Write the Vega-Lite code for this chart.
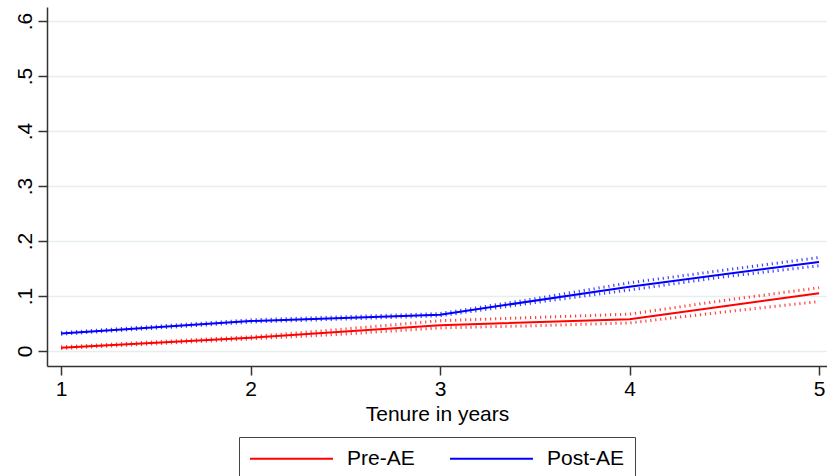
{
  "$schema": "https://vega.github.io/schema/vega-lite/v6.json",
  "width": 780,
  "height": 359,
  "autosize": "none",
  "padding": {"left": 47, "top": 7, "right": 0, "bottom": 110},
  "background": "white",
  "config": {
    "font": "Liberation Sans",
    "view": {"stroke": null},
    "axis": {
      "domainColor": "#333333",
      "domainWidth": 1.5,
      "tickColor": "#333333",
      "tickWidth": 1.5,
      "tickSize": 9,
      "labelFontSize": 21,
      "labelColor": "#000000",
      "titleFontSize": 21,
      "titleFontWeight": "normal",
      "titleColor": "#000000"
    }
  },
  "data": {
    "values": [
      {"tenure": 1, "group": "Pre-AE", "type": "est", "value": 0.006},
      {"tenure": 2, "group": "Pre-AE", "type": "est", "value": 0.024},
      {"tenure": 3, "group": "Pre-AE", "type": "est", "value": 0.047},
      {"tenure": 4, "group": "Pre-AE", "type": "est", "value": 0.0575},
      {"tenure": 5, "group": "Pre-AE", "type": "est", "value": 0.105},
      {"tenure": 1, "group": "Post-AE", "type": "est", "value": 0.032},
      {"tenure": 2, "group": "Post-AE", "type": "est", "value": 0.0545},
      {"tenure": 3, "group": "Post-AE", "type": "est", "value": 0.066},
      {"tenure": 4, "group": "Post-AE", "type": "est", "value": 0.117},
      {"tenure": 5, "group": "Post-AE", "type": "est", "value": 0.162},

      {"tenure": 1, "group": "Pre-AE", "type": "upper", "value": 0.0075},
      {"tenure": 2, "group": "Pre-AE", "type": "upper", "value": 0.026},
      {"tenure": 2.5, "group": "Pre-AE", "type": "upper", "value": 0.04},
      {"tenure": 3, "group": "Pre-AE", "type": "upper", "value": 0.055},
      {"tenure": 3.5, "group": "Pre-AE", "type": "upper", "value": 0.061},
      {"tenure": 4, "group": "Pre-AE", "type": "upper", "value": 0.067},
      {"tenure": 4.5, "group": "Pre-AE", "type": "upper", "value": 0.092},
      {"tenure": 5, "group": "Pre-AE", "type": "upper", "value": 0.115},
      {"tenure": 1, "group": "Pre-AE", "type": "lower", "value": 0.0045},
      {"tenure": 2, "group": "Pre-AE", "type": "lower", "value": 0.022},
      {"tenure": 2.5, "group": "Pre-AE", "type": "lower", "value": 0.031},
      {"tenure": 3, "group": "Pre-AE", "type": "lower", "value": 0.042},
      {"tenure": 3.5, "group": "Pre-AE", "type": "lower", "value": 0.046},
      {"tenure": 4, "group": "Pre-AE", "type": "lower", "value": 0.051},
      {"tenure": 4.5, "group": "Pre-AE", "type": "lower", "value": 0.071},
      {"tenure": 5, "group": "Pre-AE", "type": "lower", "value": 0.09},

      {"tenure": 1, "group": "Post-AE", "type": "upper", "value": 0.0335},
      {"tenure": 2, "group": "Post-AE", "type": "upper", "value": 0.0565},
      {"tenure": 3, "group": "Post-AE", "type": "upper", "value": 0.068},
      {"tenure": 3.5, "group": "Post-AE", "type": "upper", "value": 0.095},
      {"tenure": 4, "group": "Post-AE", "type": "upper", "value": 0.124},
      {"tenure": 4.5, "group": "Post-AE", "type": "upper", "value": 0.147},
      {"tenure": 5, "group": "Post-AE", "type": "upper", "value": 0.17},
      {"tenure": 1, "group": "Post-AE", "type": "lower", "value": 0.0305},
      {"tenure": 2, "group": "Post-AE", "type": "lower", "value": 0.0525},
      {"tenure": 3, "group": "Post-AE", "type": "lower", "value": 0.064},
      {"tenure": 3.5, "group": "Post-AE", "type": "lower", "value": 0.088},
      {"tenure": 4, "group": "Post-AE", "type": "lower", "value": 0.111},
      {"tenure": 4.5, "group": "Post-AE", "type": "lower", "value": 0.135},
      {"tenure": 5, "group": "Post-AE", "type": "lower", "value": 0.155}
    ]
  },
  "encoding": {
    "x": {
      "field": "tenure",
      "type": "quantitative",
      "scale": {"domain": [0.926, 5.042], "nice": false, "zero": false},
      "axis": {
        "values": [1, 2, 3, 4, 5],
        "title": "Tenure in years",
        "grid": false,
        "labelPadding": 3,
        "titlePadding": 4,
        "labelFlush": false
      }
    },
    "y": {
      "field": "value",
      "type": "quantitative",
      "scale": {"domain": [-0.0273, 0.6255], "nice": false, "zero": false},
      "axis": {
        "values": [0, 0.1, 0.2, 0.3, 0.4, 0.5, 0.6],
        "title": null,
        "grid": true,
        "gridColor": "#e6eff0",
        "gridWidth": 1.5,
        "labelAngle": -90,
        "labelAlign": "center",
        "labelBaseline": "bottom",
        "labelPadding": 3,
        "labelExpr": "datum.value == 0 ? '0' : replace(format(datum.value, '.1f'), '0.', '.')"
      }
    }
  },
  "layer": [
    {
      "transform": [{"filter": "datum.type != 'est' && datum.group == 'Pre-AE'"}],
      "mark": {"type": "line", "color": "#ff0000", "strokeWidth": 3, "strokeDash": [1.2, 3.8], "opacity": 0.75},
      "encoding": {"detail": {"field": "type"}}
    },
    {
      "transform": [{"filter": "datum.type != 'est' && datum.group == 'Post-AE'"}],
      "mark": {"type": "line", "color": "#0000ff", "strokeWidth": 3, "strokeDash": [1.2, 3.8], "opacity": 0.75},
      "encoding": {"detail": {"field": "type"}}
    },
    {
      "transform": [{"filter": "datum.type == 'est'"}],
      "mark": {"type": "line", "strokeWidth": 2},
      "encoding": {
        "color": {
          "field": "group",
          "type": "nominal",
          "scale": {"domain": ["Pre-AE", "Post-AE"], "range": ["#ff0000", "#0000ff"]},
          "legend": {
            "title": null,
            "orient": "none",
            "legendX": 192,
            "legendY": 430,
            "direction": "horizontal",
            "symbolType": "M-1,0H6.9",
            "symbolSize": 441,
            "symbolStrokeWidth": 2,
            "labelFontSize": 21,
            "labelColor": "#000000",
            "labelOffset": 75,
            "columnPadding": 31,
            "padding": 10,
            "strokeColor": "#444444",
            "fillColor": "white",
            "cornerRadius": 0
          }
        }
      }
    }
  ]
}
